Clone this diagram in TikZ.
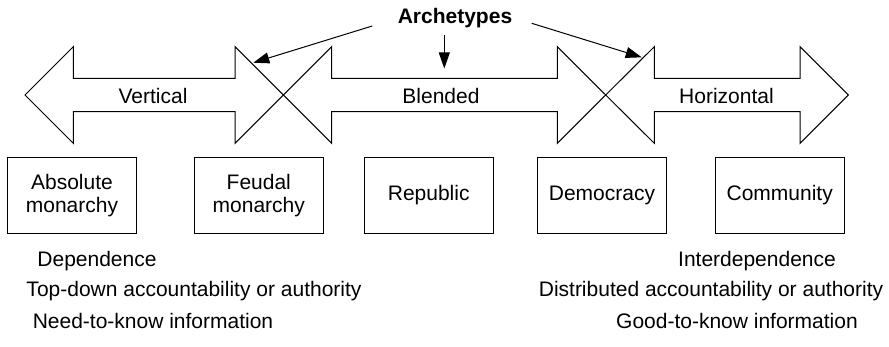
\documentclass[tikz,border=0pt]{standalone}
\usepackage{fontspec}
\setmainfont{Liberation Sans}
\usetikzlibrary{arrows.meta}
\begin{document}
\begin{tikzpicture}[x=1pt,y=-1pt,
  every node/.style={font=\fontsize{21}{23.5}\selectfont, inner sep=0pt},
  outline/.style={draw=black, line width=1pt, line join=miter},
  govbox/.style={draw=black, line width=1pt, minimum width=129pt, minimum height=75.6pt, align=center},
  pointer/.style={draw=black, line width=1pt, -{Triangle[length=16pt,width=11pt]}}]
\useasboundingbox (0,0) rectangle (889,347);

% three double-headed arrows; neighbouring heads overlap to form crosses
\newcommand{\dblarrow}[4]{%
  \draw[outline] (#1,95) -- (#2,46.7) -- (#2,78.3) -- (#3,78.3) -- (#3,46.7) -- (#4,95)
    -- (#3,143.3) -- (#3,111.7) -- (#2,111.7) -- (#2,143.3) -- cycle;}
\dblarrow{25}{73.3}{235}{283.3}
\dblarrow{283.3}{331.7}{557.3}{605.7}
\dblarrow{605.7}{654.3}{800}{848.3}

\node (vert) at (153,96) {Vertical};
\node (blend) at (441,96) {Blended};
\node (horiz) at (726.5,96) {Horizontal};

% archetypes label and its pointers
\node[font=\fontsize{21}{23.5}\selectfont\bfseries] (arch) at (455,18) {Archetypes};
\coordinate (archL) at (372.3,26);
\coordinate (archM) at (444.3,35);
\coordinate (archR) at (531.7,23.3);
\coordinate (crossL) at (253.3,62.7);
\coordinate (midB) at (444.3,68.5);
\coordinate (crossR) at (641.7,57.3);
\draw[pointer] (archL) -- (crossL);
\draw[pointer] (archM) -- (midB);
\draw[pointer] (archR) -- (crossR);

% forms of governance
\node[govbox] (absm) at (72,195.5) {Absolute\\monarchy};
\node[govbox] (feud) at (258.8,195.5) {Feudal\\monarchy};
\node[govbox] (rep) at (428.7,195.5) {Republic};
\node[govbox] (dem) at (602,195.5) {Democracy};
\node[govbox] (comm) at (779.7,195.5) {Community};

% characteristics at each end
\node (dep) at (97,261) {Dependence};
\node (topdown) at (194,291) {Top-down accountability or authority};
\node (need) at (153,321) {Need-to-know information};
\node (interdep) at (757,261) {Interdependence};
\node (distrib) at (711,291) {Distributed accountability or authority};
\node (good) at (737,321) {Good-to-know information};
\end{tikzpicture}
\end{document}
